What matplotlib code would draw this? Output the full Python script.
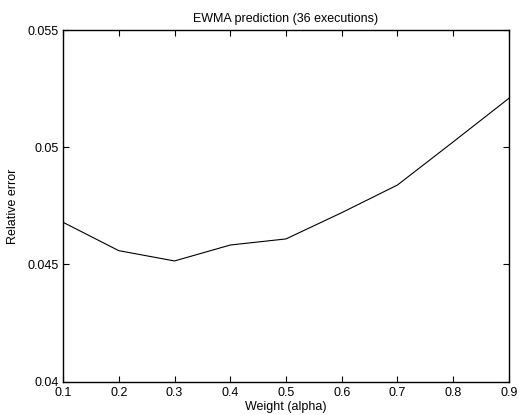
import matplotlib
matplotlib.use("Agg")
import matplotlib.pyplot as plt

alpha = [0.1, 0.2, 0.3, 0.4, 0.5, 0.6, 0.7, 0.8, 0.9]
rel_error = [0.0468, 0.04559, 0.04515, 0.04583, 0.04609, 0.04721, 0.04839, 0.05023, 0.05209]
xticks = [0.1, 0.2, 0.3, 0.4, 0.5, 0.6, 0.7, 0.8, 0.9]
yticks = [0.04, 0.045, 0.05, 0.055]
ytick_labels = ["0.04", "0.045", "0.05", "0.055"]

plt.rcParams['font.family'] = ['Liberation Sans', 'DejaVu Sans']
fig = plt.figure(figsize=(5.19, 4.15), dpi=100)
ax = fig.add_axes([0.1214, 0.0802, 0.9807 - 0.1214, 0.9277 - 0.0802])
ax.plot(alpha, rel_error, color='black', linewidth=0.8)
ax.set_xlim(0.1, 0.9)
ax.set_ylim(0.04, 0.055)
ax.set_xticks(xticks)
ax.set_xticklabels([f"{v:g}" for v in xticks])
ax.set_yticks(yticks)
ax.set_yticklabels(ytick_labels)
ax.tick_params(direction='in', top=True, right=True, length=4, width=0.8, labelsize=9, pad=3)
ax.tick_params(axis='x', pad=4)
for s in ax.spines.values():
    s.set_linewidth(1.0)
ax.set_title("EWMA prediction (36 executions)", fontsize=9, pad=6)
ax.set_xlabel("Weight (alpha)", fontsize=9, labelpad=1)
ax.set_ylabel("Relative error", fontsize=9, labelpad=6)
fig.savefig("out.png", dpi=100)
